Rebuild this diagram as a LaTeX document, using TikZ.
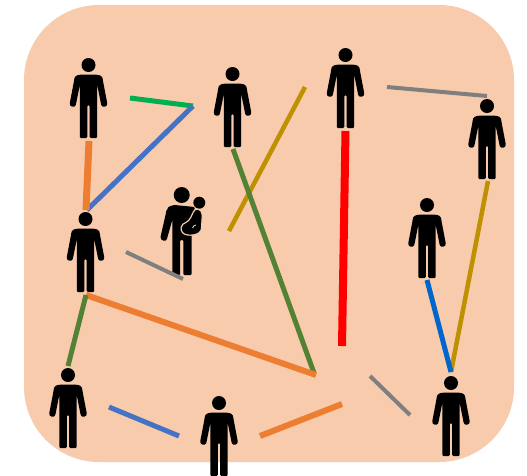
\documentclass[tikz,border=0pt]{standalone}
\definecolor{bgc}{HTML}{F8CBAD}
\definecolor{cgreen}{HTML}{00B050}
\definecolor{cblue}{HTML}{4472C4}
\definecolor{corange}{HTML}{ED7D31}
\definecolor{cgrey}{HTML}{7F7F7F}
\definecolor{cgold}{HTML}{BF9000}
\definecolor{colive}{HTML}{548235}
\definecolor{cdeep}{HTML}{0066CC}
\tikzset{
  link/.style={line width=#1},
  link/.default=5pt,
  person/.pic={
    \fill[black] (0,0) circle (7);
    \fill[black,rounded corners=1.2]
      (-6,9.5) .. controls (-12,10) and (-14,11) .. (-14.5,16)
      -- (-18.5,37) .. controls (-19.5,42) and (-13.5,43) .. (-12.5,39)
      -- (-8.7,20) -- (-8.7,73) -- (-1.2,73) -- (-1.2,40) -- (1.2,40) -- (1.2,73) -- (8.7,73) -- (8.7,20)
      -- (12.5,39) .. controls (13.5,43) and (19.5,42) .. (18.5,37)
      -- (14.5,16) .. controls (14,11) and (12,10) .. (6,9.5) -- cycle;
  },
  carrier/.pic={
    \fill[black] (0,0) circle (8);
    \fill[black,rounded corners=1]
      (-7,10) .. controls (-13,11) and (-15,13) .. (-15.5,17)
      -- (-21,41) .. controls (-21.5,46) and (-15.5,47) .. (-14.5,43)
      -- (-9.4,25) -- (-9.4,80) -- (-1.7,80) -- (-1.7,45) -- (1.6,45) -- (1.6,80) -- (10,80)
      -- (10,38) -- (13,20) -- (13,12) -- cycle;
    \fill[black] (17.6,7.7) circle (6);
    \draw[bgc,line width=1.2,fill=black]
      (11.6,17) .. controls (12.5,15) and (14,14) .. (15.6,14.2)
      .. controls (19,14.5) and (20.6,17) .. (20.6,20)
      -- (20,30) .. controls (20,35) and (19,37) .. (17,38)
      .. controls (14,40) and (10,40.5) .. (6,40)
      .. controls (1,39.5) and (-1,36) .. (-0.6,32.5)
      .. controls (0,29.5) and (2,28.5) .. (3.3,28)
      .. controls (6,26.5) and (8,25) .. (9,22.5) -- cycle;
    \fill[black] (14.8,32.3) circle (3.6);
    \draw[bgc,line width=0.9] (10.9,33) arc (190:265:3.6);
  }
}
\begin{document}
\begin{tikzpicture}[x=1pt,y=-1pt]
\useasboundingbox (0,0) rectangle (527,475);
\clip (0,0) rectangle (527,475);
\fill[white] (0,0) rectangle (527,475);
\fill[bgc,rounded corners=75] (24,5) rectangle (514,462);

\pic at (88.5,65) {person};
\pic at (232.5,74) {person};
\pic at (345.5,55) {person};
\pic at (487,106) {person};
\pic at (85.5,219) {person};
\pic at (427,205) {person};
\pic at (68,375) {person};
\pic at (219,403) {person};
\pic at (451,383) {person};
\pic at (181.7,195) {carrier};

\coordinate (g1) at (130,98);
\coordinate (g2) at (193,106);
\coordinate (b1) at (87,210);
\coordinate (o1) at (89,141);
\coordinate (o2) at (86,210);
\coordinate (gr1) at (387,87);
\coordinate (gr2) at (487,96);
\coordinate (y1) at (305,87);
\coordinate (y2) at (229,231);
\coordinate (l1) at (233,149);
\coordinate (l2) at (314,373);
\coordinate (r1) at (345.5,131);
\coordinate (r2) at (342,346);
\coordinate (y3) at (488,181);
\coordinate (y4) at (451,372);
\coordinate (d1) at (427,280);
\coordinate (gr3) at (126,252);
\coordinate (gr4) at (183,279);
\coordinate (o3) at (86,295);
\coordinate (o4) at (316,375);
\coordinate (l3) at (68,366);
\coordinate (b3) at (109,407);
\coordinate (b4) at (179,436);
\coordinate (o5) at (260,436);
\coordinate (o6) at (342,404);
\coordinate (gr5) at (370,376);
\coordinate (gr6) at (410,415);

\draw[cgreen,link=5pt] (g1) -- (g2);
\draw[cblue,link=5pt] (g2) -- (b1);
\draw[corange,link=7pt] (o1) -- (o2);
\draw[cgrey,link=4pt] (gr1) -- (gr2);
\draw[cgold,link=4.5pt] (y1) -- (y2);
\draw[colive,link=5pt] (l1) -- (l2);
\draw[red,link=8pt] (r1) -- (r2);
\draw[cgold,link=4.5pt] (y3) -- (y4);
\draw[cdeep,link=5pt] (d1) -- (y4);
\draw[cgrey,link=4pt] (gr3) -- (gr4);
\draw[corange,link=6pt] (o3) -- (o4);
\draw[colive,link=5pt] (o3) -- (l3);
\draw[cblue,link=5pt] (b3) -- (b4);
\draw[corange,link=6pt] (o5) -- (o6);
\draw[cgrey,link=4pt] (gr5) -- (gr6);
\end{tikzpicture}
\end{document}
